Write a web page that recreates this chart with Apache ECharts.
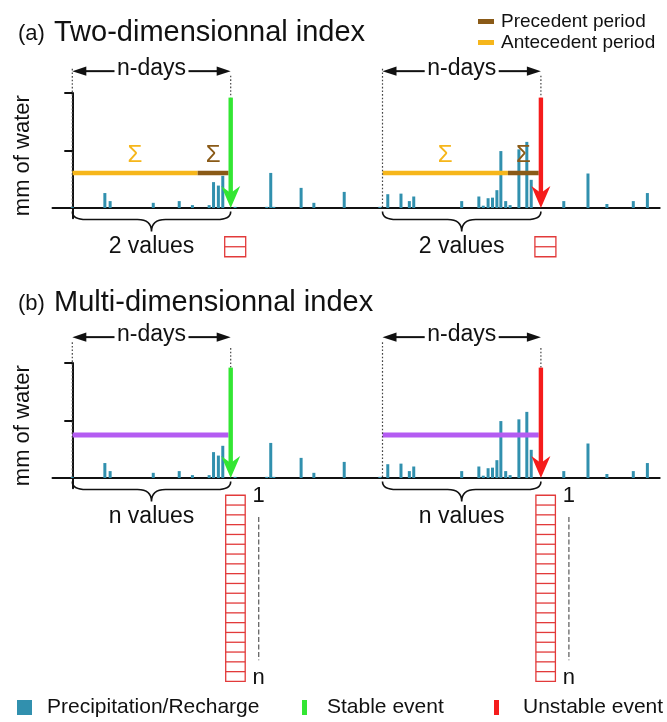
<!DOCTYPE html>
<html><head><meta charset="utf-8">
<script src="https://cdn.jsdelivr.net/npm/echarts@6/dist/echarts.min.js"></script>
<style>html,body{margin:0;padding:0;background:#fff}#c{width:667px;height:722px}</style>
</head><body><div id="c"></div>
<script>
// ---------- data ----------
const rainDay = [0, 7.4, 8.6, 18.4, 24.3, 27.3, 31.1, 32.1, 33.2, 34.2, 37, 44.2, 45.1, 45.8, 52, 54.9, 61.8, 69.9, 71.7, 74.7,
  76.6, 77.6, 88.5, 92.4, 93.4, 94.5, 95.5, 96.5, 97.4, 98.5, 99.5, 101.5, 103.3, 104.3, 111.7, 117.2, 121.5, 127.5, 130.7];
const rainMm = [0.02, 0.26, 0.12, 0.09, 0.12, 0.05, 0.05, 0.45, 0.39, 0.56, 0.02, 0.02, 0.61, 0.02, 0.35, 0.09, 0.28, 0.02, 0.24, 0.25,
  0.12, 0.2, 0.12, 0.2, 0.04, 0.17, 0.18, 0.31, 0.99, 0.12, 0.05, 1.02, 1.15, 0.49, 0.12, 0.6, 0.07, 0.12, 0.26];
const eventDay = [36, 106.5];
const eventName = ['Stable event', 'Unstable event'];
const eventPeak = [1.92, 1.92];
const windowDays = 36;
const precedentDays = 7;
const sumLevel = 0.61;
const indexLevel = 0.75;
const yTicks = [0, 1, 2];
const countLabel = ['2 values', 'n values'];
const cellCount = [2, 19];
const dimLabels = ['1', 'n'];
const panelTag = ['(a)', '(b)'];
const panelTitle = ['Two-dimensionnal index', 'Multi-dimensionnal index'];
const legendBottom = ['Precipitation/Recharge', 'Stable event', 'Unstable event'];
const legendTop = ['Precedent period', 'Antecedent period'];

// ---------- styles ----------
const F = "'Liberation Sans', Arial, sans-serif";
const C = {bar:'#3190ae', green:'#33e633', red:'#f51c1c', yellow:'#f6b61b', brown:'#8a5a17',
  purple:'#b45cf2', box:'#e23a3a', ink:'#111111'};
const evColor = [C.green, C.red];

function vline(x, y1, y2, dash, color, w) {
  return {type:'line', shape:{x1:x, y1:y1, x2:x, y2:y2}, style:{stroke:color || '#444', lineWidth:w || 1.2, lineDash:dash}};
}
function txt(x, y, s, size, color, align) {
  return {type:'text', x:x, y:y, style:{text:s, fontSize:size, fontFamily:F, fill:color || C.ink,
    align:align || 'center', verticalAlign:'middle'}};
}
function hArrow(x0, x1, y, label) {
  const xm = (x0 + x1) / 2, hl = 14, hw = 4.7, gap = 37;
  return [
    {type:'line', shape:{x1:x0 + hl - 2, y1:y, x2:xm - gap, y2:y}, style:{stroke:C.ink, lineWidth:2}},
    {type:'line', shape:{x1:xm + gap, y1:y, x2:x1 - hl + 2, y2:y}, style:{stroke:C.ink, lineWidth:2}},
    {type:'polygon', shape:{points:[[x0, y], [x0 + hl, y - hw], [x0 + hl, y + hw]]}, style:{fill:C.ink}},
    {type:'polygon', shape:{points:[[x1, y], [x1 - hl, y - hw], [x1 - hl, y + hw]]}, style:{fill:C.ink}},
    txt(xm, y - 2, label, 23)
  ];
}
function brace(x0, x1, yt, yb, yp) {
  const xm = (x0 + x1) / 2, r = 14;
  const d = 'M' + x0 + ' ' + yt + ' Q' + x0 + ' ' + yb + ' ' + (x0 + r) + ' ' + yb +
    ' L' + (xm - r) + ' ' + yb + ' Q' + xm + ' ' + yb + ' ' + xm + ' ' + yp +
    ' Q' + xm + ' ' + yb + ' ' + (xm + r) + ' ' + yb + ' L' + (x1 - r) + ' ' + yb +
    ' Q' + x1 + ' ' + yb + ' ' + x1 + ' ' + yt;
  return {type:'path', shape:{pathData:d}, style:{stroke:C.ink, lineWidth:1.6, fill:null}};
}
function cells(x, y, w, h, n) {
  const out = [{type:'rect', shape:{x:x, y:y, width:w, height:h * n}, style:{fill:'#fff', stroke:C.box, lineWidth:1.3}}];
  for (let k = 1; k < n; k++) out.push({type:'line', shape:{x1:x, y1:y + k * h, x2:x + w, y2:y + k * h}, style:{stroke:C.box, lineWidth:1.3}});
  return out;
}

function arrowRender(color) {
  return function (params, api) {
    const top = api.coord([api.value(0), api.value(1)]);
    const bot = api.coord([api.value(0), 0]);
    const x = bot[0], yb = bot[1], hw = 2.2, headW = 9.5, headL = 22;
    return {type:'group', children:[
      {type:'rect', shape:{x:x - hw, y:top[1], width:2 * hw, height:(yb - 15) - top[1]}, style:{fill:color}},
      {type:'polygon', shape:{points:[[x - headW, yb - headL], [x, yb - 15], [x + headW, yb - headL], [x, yb]]}, style:{fill:color}}
    ]};
  };
}

function annotRender(g) {
  return function (params, api) {
    const i = params.dataIndex;
    const e = api.value(0), s = e - windowDays;
    const P = (x, y) => api.coord([x, y]);
    const xs = P(s, 0)[0], xe = P(e, 0)[0], y0 = P(s, 0)[1];
    const ch = [];
    ch.push(vline(xs, P(s, g === 0 ? 2.42 : 2.36)[1], y0, [1.6, 2]));
    ch.push(vline(xe, P(e, g === 0 ? 2.3 : 2.26)[1], P(e, eventPeak[i])[1], [1.6, 2]));
    ch.push(...hArrow(xs, xe, P(s, g === 0 ? 2.38 : 2.45)[1], 'n-days'));
    ch.push(brace(xs, xe, P(s, -0.06)[1], P(s, -0.2)[1], P(s, -0.41)[1]));
    ch.push(txt((xs + xe) / 2, P(s, -0.67)[1], countLabel[g], 23));
    if (g === 0) {
      const split = e - 0.5 - precedentDays;
      ch.push(txt((P(s, 0)[0] + P(split, 0)[0]) / 2, P(s, 0.92)[1], 'Σ', 24, C.yellow));
      ch.push(txt((P(split, 0)[0] + P(e - 0.5, 0)[0]) / 2, P(s, 0.92)[1], 'Σ', 24, C.brown));
      ch.push(...cells(xe - 6, P(e, -0.5)[1], 21, 10, cellCount[0]));
    } else {
      const top = P(e, -0.3)[1];
      ch.push(...cells(xe - 5, top, 19.5, 9.8, cellCount[1]));
      ch.push(txt(xe + 28, P(e, -0.31)[1], dimLabels[0], 22));
      ch.push(vline(xe + 28, P(e, -0.68)[1], P(e, -3.17)[1], [5, 2.5], '#666', 1.3));
      ch.push(txt(xe + 28, P(e, -3.47)[1], dimLabels[1], 22));
    }
    return {type:'group', children:ch};
  };
}

// ---------- axes ----------
const gridTops = [93, 363];
const grids = gridTops.map(t => ({left:52.5, top:t, width:607.2, height:125.35}));
const xAxes = gridTops.map((t, g) => ({type:'value', gridIndex:g, min:-4.5, max:133.5,
  axisLine:{show:true, onZero:true, lineStyle:{color:C.ink, width:2}}, axisTick:{show:false},
  axisLabel:{show:false}, splitLine:{show:false}}));
const yAxes = gridTops.map((t, g) => ({type:'value', gridIndex:g, min:-0.18, max:2,
  name:'mm of water', nameLocation:'middle', nameGap:19, nameTextStyle:{fontSize:22, color:C.ink, fontFamily:F},
  axisLine:{show:true, lineStyle:{color:C.ink, width:2}},
  axisTick:{show:true, length:8, lineStyle:{color:C.ink, width:2}, customValues:yTicks},
  axisLabel:{show:false}, splitLine:{show:false}}));

// ---------- series ----------
const series = [];
[0, 1].forEach(g => {
  series.push({type:'bar', name:'Precipitation/Recharge', xAxisIndex:g, yAxisIndex:g, barWidth:3,
    data:rainDay.map((d, i) => [d, rainMm[i]]), itemStyle:{color:C.bar}, z:2, silent:true});
  eventDay.forEach((e, i) => {
    const s = e - windowDays;
    if (g === 0) {
      const split = e - 0.5 - precedentDays;
      series.push({type:'line', name:'Antecedent period', xAxisIndex:g, yAxisIndex:g, symbol:'none', z:3, silent:true,
        data:[[s, sumLevel], [split, sumLevel]], itemStyle:{color:C.yellow}, lineStyle:{color:C.yellow, width:4.5, cap:'butt'}});
      series.push({type:'line', name:'Precedent period', xAxisIndex:g, yAxisIndex:g, symbol:'none', z:3, silent:true,
        data:[[split, sumLevel], [e - 0.5, sumLevel]], itemStyle:{color:C.brown}, lineStyle:{color:C.brown, width:4.5, cap:'butt'}});
    } else {
      series.push({type:'line', name:'Index window', xAxisIndex:g, yAxisIndex:g, symbol:'none', z:3, silent:true,
        data:[[s, indexLevel], [e - 0.5, indexLevel]], itemStyle:{color:C.purple}, lineStyle:{color:C.purple, width:5, cap:'butt'}});
    }
    series.push({type:'custom', name:eventName[i], xAxisIndex:g, yAxisIndex:g, z:5, silent:true, clip:false,
      itemStyle:{color:evColor[i]}, data:[[e, eventPeak[i]]], renderItem:arrowRender(evColor[i])});
  });
  series.push({type:'custom', name:'annot' + g, xAxisIndex:g, yAxisIndex:g, z:4, silent:true, clip:false,
    data:eventDay.map(e => [e, 0]), renderItem:annotRender(g)});
});

const titles = [];
[0, 1].forEach(g => {
  const base = g === 0 ? 0 : 270;
  titles.push({text:panelTag[g], left:18, top:23 + base, padding:0, textStyle:{fontSize:22, fontWeight:'normal', color:C.ink, fontFamily:F}});
  titles.push({text:panelTitle[g], left:54, top:18 + base, padding:0, textStyle:{fontSize:29, fontWeight:'normal', color:C.ink, fontFamily:F}});
});

const legendText = {fontSize:21, color:C.ink, fontFamily:F};
const legends = [
  {orient:'vertical', left:478, top:12, itemWidth:16, itemHeight:5, itemGap:2, selectedMode:false, icon:'rect', padding:0,
    textStyle:{fontSize:19, color:C.ink, fontFamily:F, padding:[0, 0, 0, 2]},
    data:[{name:legendTop[0], itemStyle:{color:C.brown}}, {name:legendTop[1], itemStyle:{color:C.yellow}}]},
  {left:17, top:697, itemWidth:15, itemHeight:15, selectedMode:false, icon:'rect', padding:0,
    textStyle:Object.assign({padding:[0, 0, 0, 10]}, legendText), data:[{name:legendBottom[0], itemStyle:{color:C.bar}}]},
  {left:302, top:697, itemWidth:5, itemHeight:15, selectedMode:false, icon:'rect', padding:0,
    textStyle:Object.assign({padding:[0, 0, 0, 15]}, legendText), data:[{name:legendBottom[1], itemStyle:{color:C.green}}]},
  {left:494, top:697, itemWidth:5, itemHeight:15, selectedMode:false, icon:'rect', padding:0,
    textStyle:Object.assign({padding:[0, 0, 0, 19]}, legendText), data:[{name:legendBottom[2], itemStyle:{color:C.red}}]}
];

const chart = echarts.init(document.getElementById('c'), null, {renderer:'canvas'});
chart.setOption({
  animation:false,
  backgroundColor:'#ffffff',
  title:titles,
  legend:legends,
  grid:grids,
  xAxis:xAxes,
  yAxis:yAxes,
  series:series
});
</script></body></html>
